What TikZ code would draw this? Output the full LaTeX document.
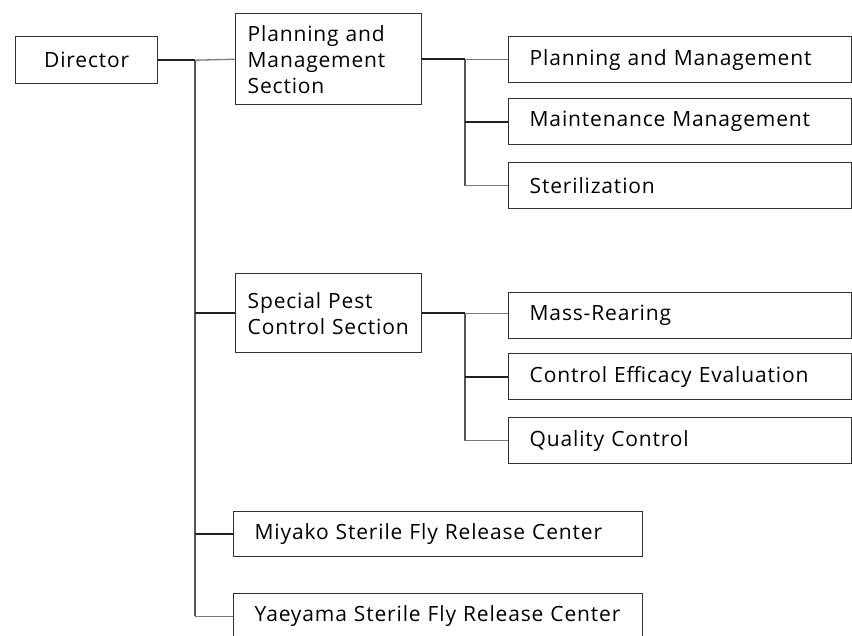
\documentclass[tikz,border=0pt]{standalone}
\usepackage{fontspec}
\setmainfont{Open Sans}[LetterSpace=4]
\definecolor{boxline}{HTML}{333333}
\definecolor{inkdark}{HTML}{231F20}
\definecolor{inkgrey}{HTML}{7A7A7A}
\definecolor{spinegrey}{HTML}{555555}
\begin{document}
\begin{tikzpicture}[x=1pt,y=-1pt,
  unit/.style={draw=boxline, line width=1.4pt, inner ysep=0pt, anchor=north west,
    font=\fontsize{21}{26}\selectfont, align=left},
  head/.style={unit, minimum width=142pt, inner xsep=0pt, text width=142pt, align=center},
  section/.style={unit, inner xsep=12pt, text width=162pt},
  office/.style={unit, minimum height=46pt, inner xsep=21pt, text width=301pt},
  center/.style={unit, minimum height=45pt, inner xsep=21pt, text width=367pt},
  strong/.style={draw=inkdark, line width=2pt},
  light/.style={draw=inkgrey, line width=1.3pt},
  spine/.style={draw=spinegrey, line width=1.3pt}]
\clip (0,0) rectangle (852,635);

% boxes
\node[head, minimum height=47pt] (dir) at (15,36) {Director};
\node[section, minimum height=91pt] (pms) at (235,13) {Planning and\\Management\\Section};
\node[section, minimum height=79pt] (spc) at (235,273) {Special Pest\\Control Section};

\node[office] (pm)  at (508,36)  {Planning and Management};
\node[office] (mm)  at (508,98)  {Maintenance Management};
\node[office] (st)  at (508,162) {Sterilization};

\node[office] (mr)  at (508,292) {Mass-Rearing};
\node[office] (cee) at (508,353) {Control Efficacy Evaluation};
\node[office] (qc)  at (508,417) {Quality Control};

\node[center] (miy) at (233,511) {Miyako Sterile Fly Release Center};
\node[center] (yae) at (233,593) {Yaeyama Sterile Fly Release Center};

% spines
\coordinate (s0) at (195,0);
\coordinate (s1) at (465,0);
\coordinate (s2) at (465,0);

\draw[spine] (s0 |- dir.east) -- (s0 |- yae.west);
\draw[spine] (s1 |- pms.east) -- (s1 |- st.west);
\draw[spine] (s2 |- spc.east) -- (s2 |- qc.west);

% director level
\draw[strong] (dir.east) -- (s0 |- dir.east);
\draw[light]  (s0 |- dir.east) -- (pms.west);
\draw[strong] (s0 |- spc.west) -- (spc.west);
\draw[strong] (s0 |- miy.west) -- (miy.west);
\draw[light]  (s0 |- yae.west) -- (yae.west);

% planning and management section
\draw[strong] (pms.east) -- (s1 |- pms.east);
\draw[light]  (s1 |- pms.east) -- (pm.west |- pms.east);
\draw[strong] (s1 |- mm.west) -- (mm.west);
\draw[light]  (s1 |- st.west) -- (st.west);

% special pest control section
\draw[strong] (spc.east) -- (s2 |- spc.east);
\draw[light]  (s2 |- spc.east) -- (mr.west |- spc.east);
\draw[strong] (s2 |- cee.west) -- (cee.west);
\draw[light]  (s2 |- qc.west) -- (qc.west);
\end{tikzpicture}
\end{document}
